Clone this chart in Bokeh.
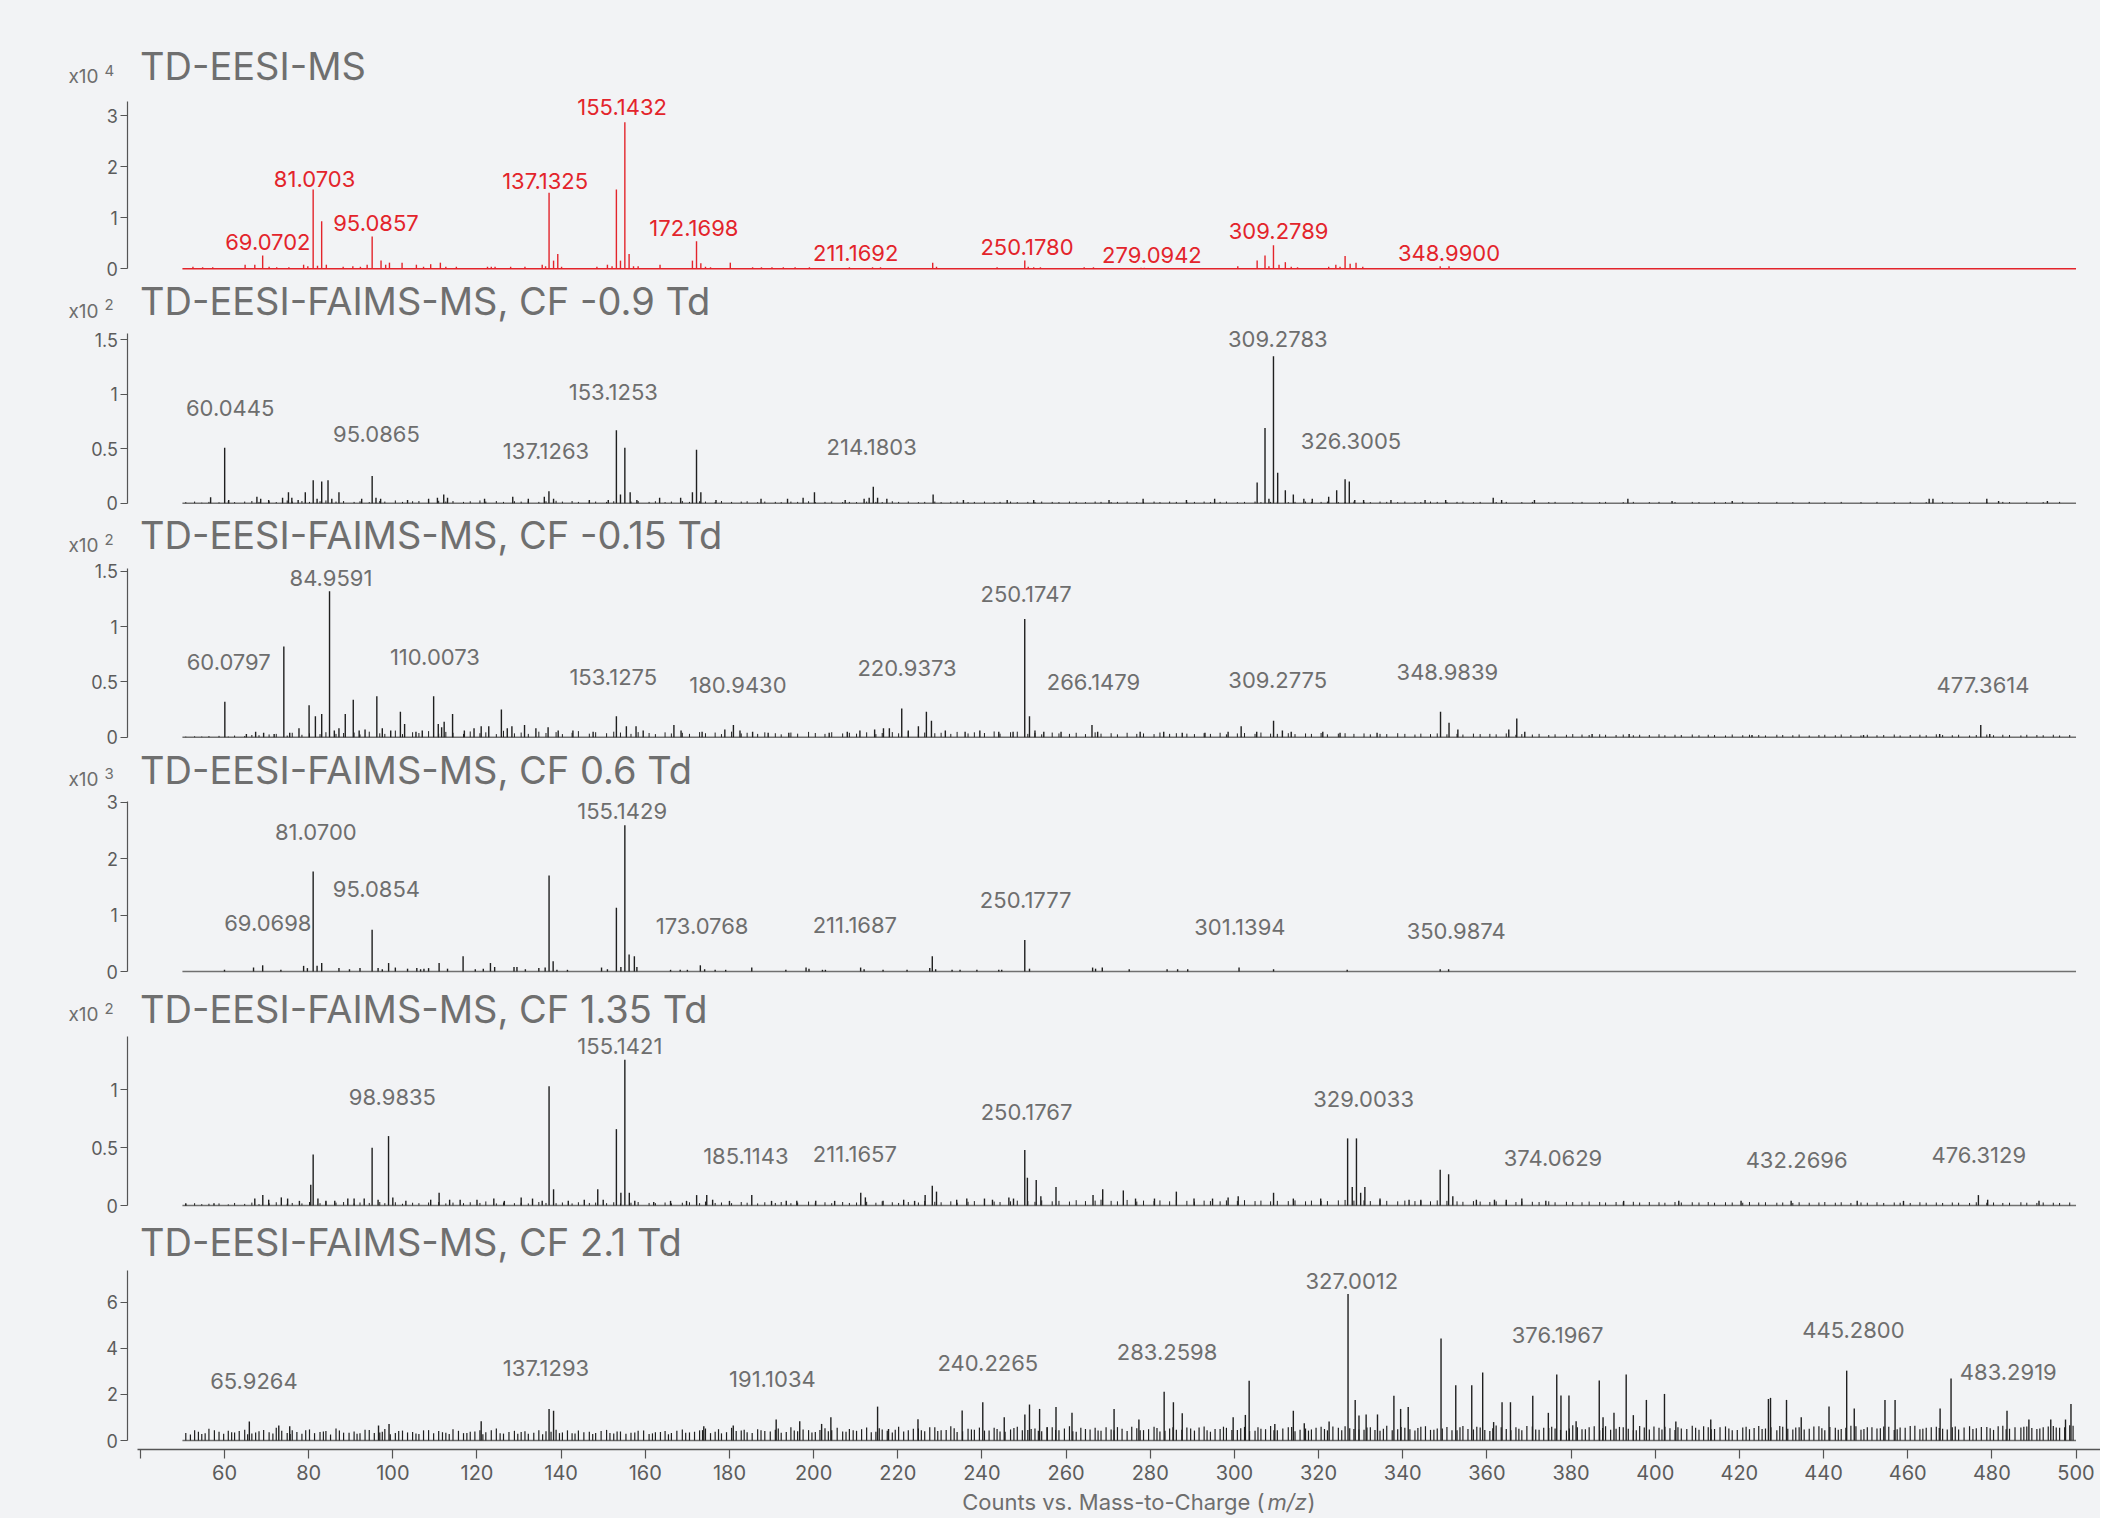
from bokeh.plotting import figure
from bokeh.models import Range1d, FixedTicker, CustomJSTickFormatter, Label, ColumnDataSource
from bokeh.layouts import column
from bokeh.embed import file_html
from bokeh.resources import INLINE

# ------------------------------------------------------------------ data
titles = ["TD-EESI-MS",
          "TD-EESI-FAIMS-MS, CF -0.9 Td",
          "TD-EESI-FAIMS-MS, CF -0.15 Td",
          "TD-EESI-FAIMS-MS, CF 0.6 Td",
          "TD-EESI-FAIMS-MS, CF 1.35 Td",
          "TD-EESI-FAIMS-MS, CF 2.1 Td"]
exponents = ["4", "2", "2", "3", "2", None]
y_ticks = [[0, 1, 2, 3], [0, 0.5, 1, 1.5], [0, 0.5, 1, 1.5],
           [0, 1, 2, 3], [0, 0.5, 1], [0, 2, 4, 6]]
x_tick_values = [40, 60, 80, 100, 120, 140, 160, 180, 200, 220, 240, 260,
                 280, 300, 320, 340, 360, 380, 400, 420, 440, 460, 480, 500]
x_tick_labels = ["", "60", "80", "100", "120", "140", "160", "180", "200",
                 "220", "240", "260", "280", "300", "320", "340", "360",
                 "380", "400", "420", "440", "460", "480", "500"]
scan_range = [50, 500]

# panel 1 (x10^4)
p1_peaks = [(52.5, .04), (54.8, .03), (57.2, .03), (64.9, .08), (67.2, .08), (69.07, .26),
            (70.6, .04), (72.4, .03), (75.3, .03), (78.8, .08), (79.8, .05), (81.07, 1.55),
            (82.1, .06), (83.09, .93), (84.2, .08), (88.2, .04), (90.5, .05), (92.3, .04),
            (93.9, .08), (95.09, .63), (97.2, .16), (98.3, .08), (99.2, .12), (102.2, .12),
            (105.6, .08), (107.3, .04), (109.0, .09), (111.3, .12), (112.6, .04), (115.1, .04),
            (122.5, .04), (123.4, .04), (124.3, .04), (128.0, .04), (131.4, .04), (135.5, .08),
            (136.3, .05), (137.13, 1.49), (138.2, .16), (139.2, .29), (140.1, .04), (148.5, .04),
            (151.0, .08), (152.1, .05), (153.13, 1.55), (154.1, .16), (155.14, 2.87), (156.15, .29),
            (157.2, .05), (158.3, .05), (163.5, .08), (171.2, .16), (172.17, .54), (173.2, .11),
            (174.3, .04), (175.5, .03), (180.2, .12), (185.5, .03), (187.6, .03), (190.1, .03),
            (192.8, .03), (195.6, .03), (199.0, .03), (208.5, .03), (214.0, .03), (215.9, .03),
            (228.3, .12), (229.2, .04), (243.6, .03), (250.18, .16), (251.0, .04), (252.3, .03),
            (253.9, .03), (264.3, .03), (266.5, .03), (277.8, .02), (278.6, .02), (300.8, .05),
            (305.4, .16), (307.27, .26), (308.2, .05), (309.28, .46), (310.6, .08), (312.1, .13),
            (313.5, .04), (315.0, .03), (322.4, .04), (324.1, .08), (325.1, .04), (326.3, .25),
            (327.5, .10), (328.9, .12), (330.5, .04), (348.9, .05), (351.0, .05)]

# panel 2 (x10^2)
p2_peaks = [(56.7, .055), (60.04, .51), (61.0, .03), (67.7, .06), (68.6, .04), (70.5, .03),
            (73.8, .05), (75.2, .10), (76.0, .05), (77.5, .03), (79.2, .10), (81.08, .21),
            (82.0, .04), (83.1, .20), (84.6, .21), (85.5, .04), (87.2, .10), (92.6, .04),
            (95.09, .25), (96.0, .05), (97.1, .04), (103.5, .03), (108.5, .04), (110.6, .05),
            (112.1, .08), (113.0, .05), (121.8, .04), (128.5, .06), (132.2, .04), (136.0, .06),
            (137.1, .11), (138.2, .04), (146.7, .03), (151.2, .03), (153.13, .67), (154.1, .08),
            (155.14, .51), (156.4, .10), (158.0, .03), (163.4, .05), (168.4, .05), (171.2, .10),
            (172.17, .49), (173.2, .10), (176.8, .03), (187.5, .04), (193.8, .04), (197.5, .05),
            (200.2, .10), (207.5, .03), (212.0, .04), (213.2, .05), (214.18, .15), (215.2, .05),
            (217.4, .04), (228.4, .08), (235.6, .03), (246.0, .03), (252.3, .03), (270.2, .03),
            (278.3, .04), (288.6, .03), (295.3, .04), (305.4, .19), (307.27, .69), (308.2, .04),
            (309.28, 1.35), (310.28, .28), (312.1, .12), (314.0, .08), (316.5, .04), (318.5, .04),
            (322.4, .06), (324.3, .12), (326.3, .22), (327.3, .20), (328.6, .03), (330.7, .03),
            (337.2, .03), (345.3, .03), (350.2, .03), (361.5, .05), (363.5, .03), (371.3, .03),
            (393.5, .04), (404.0, .02), (418.3, .02), (465.1, .04), (466.0, .04), (478.8, .04),
            (481.6, .02), (493.2, .02)]

# panel 3 (x10^2)
p3_peaks = [(60.08, .32), (65.2, .03), (67.4, .05), (69.3, .04), (71.8, .03), (74.1, .82),
            (75.5, .04), (77.7, .08), (80.1, .29), (81.6, .19), (83.1, .21), (84.96, 1.32),
            (86.1, .06), (87.2, .08), (88.7, .21), (90.6, .34), (92.0, .06), (93.4, .07),
            (96.2, .37), (97.5, .08), (99.5, .06), (101.8, .23), (102.8, .12), (105.5, .05),
            (107.0, .06), (109.7, .37), (110.8, .12), (111.6, .09), (112.2, .14), (114.2, .21),
            (117.0, .06), (119.3, .08), (121.0, .10), (122.8, .10), (125.8, .25), (127.2, .08),
            (128.3, .10), (131.3, .11), (134.0, .08), (136.9, .09), (139.3, .06), (142.8, .06),
            (147.6, .05), (153.13, .19), (155.5, .10), (157.8, .10), (159.5, .06), (166.8, .11),
            (168.5, .06), (173.5, .05), (178.9, .07), (180.94, .11), (182.5, .06), (185.5, .05),
            (189.2, .04), (194.1, .04), (203.7, .04), (208.0, .05), (211.0, .06), (214.5, .07),
            (216.6, .08), (218.0, .08), (220.94, .26), (222.5, .06), (224.9, .10), (226.8, .23),
            (228.0, .15), (231.3, .06), (236.0, .05), (239.5, .06), (244.0, .05), (247.4, .05),
            (250.17, 1.07), (251.3, .19), (252.6, .06), (254.7, .05), (258.8, .05), (266.15, .11),
            (267.5, .05), (277.6, .05), (283.2, .05), (287.6, .04), (293.0, .04), (298.5, .05),
            (301.6, .10), (305.3, .05), (309.3, .15), (311.4, .06), (313.5, .05), (321.0, .05),
            (325.1, .04), (333.9, .04), (348.98, .23), (351.0, .13), (353.1, .07), (365.2, .07),
            (367.1, .17), (369.0, .05), (385.0, .03), (393.8, .03), (423.0, .02), (449.5, .02),
            (467.6, .03), (477.36, .11), (479.5, .03)]

# panel 4 (x10^3)
p4_peaks = [(60.0, .03), (66.9, .07), (69.07, .11), (73.4, .03), (78.8, .10), (79.7, .06),
            (81.07, 1.77), (82.0, .10), (83.1, .15), (87.2, .06), (89.7, .04), (92.2, .06),
            (95.08, .74), (96.5, .06), (97.5, .04), (99.0, .15), (100.6, .07), (103.5, .05),
            (105.7, .06), (106.6, .04), (107.4, .05), (108.5, .06), (111.0, .15), (113.0, .05),
            (116.7, .27), (119.6, .04), (121.5, .05), (123.2, .15), (124.2, .08), (128.8, .08),
            (129.5, .08), (131.5, .04), (134.7, .06), (136.2, .07), (137.13, 1.70), (138.1, .18),
            (139.0, .03), (141.5, .03), (149.6, .07), (151.0, .04), (153.13, 1.13), (154.2, .08),
            (155.14, 2.59), (156.15, .30), (157.4, .27), (158.0, .08), (166.0, .03), (168.3, .03),
            (170.0, .03), (173.08, .11), (174.1, .04), (176.6, .03), (179.1, .03), (185.3, .07),
            (193.4, .03), (198.2, .07), (198.9, .05), (202.1, .03), (202.8, .03), (211.17, .07),
            (212.0, .04), (216.5, .03), (222.2, .03), (227.6, .06), (228.2, .27), (229.0, .04),
            (232.9, .03), (234.8, .03), (238.8, .03), (244.0, .03), (244.7, .03), (250.18, .56),
            (251.3, .05), (266.3, .07), (267.0, .05), (268.6, .07), (275.0, .04), (284.0, .04),
            (286.5, .04), (288.9, .04), (301.1, .07), (309.3, .04), (326.8, .03), (348.9, .04),
            (350.9, .04)]

# panel 5 (x10^2)
p5_peaks = [(50.8, .02), (57.5, .02), (67.2, .06), (69.1, .09), (70.5, .05), (73.5, .07),
            (75.0, .06), (77.8, .04), (80.5, .18), (81.07, .44), (82.2, .06), (84.1, .04),
            (86.2, .04), (89.3, .06), (90.8, .06), (93.2, .06), (95.08, .50), (96.5, .05),
            (98.98, .60), (100.0, .07), (103.1, .04), (109.0, .05), (111.0, .11), (113.5, .05),
            (116.0, .05), (120.0, .05), (124.0, .06), (126.5, .04), (130.5, .07), (133.2, .06),
            (135.5, .04), (137.13, 1.03), (138.2, .14), (141.7, .04), (145.5, .05), (148.7, .14),
            (150.0, .05), (153.13, .66), (154.2, .11), (155.14, 1.26), (156.2, .11), (157.5, .04),
            (162.0, .03), (166.0, .04), (169.8, .04), (172.2, .09), (174.6, .09), (176.0, .05),
            (180.0, .04), (185.3, .09), (190.0, .04), (193.5, .04), (196.0, .04), (200.5, .04),
            (205.0, .04), (211.2, .11), (212.3, .07), (216.5, .04), (221.4, .05), (224.0, .04),
            (226.5, .09), (228.2, .17), (229.2, .12), (234.0, .05), (236.4, .06), (240.6, .06),
            (242.5, .05), (246.4, .07), (247.5, .06), (250.18, .48), (250.8, .24), (252.9, .22),
            (254.0, .08), (257.6, .16), (266.4, .09), (268.7, .14), (273.6, .13), (276.5, .06),
            (281.0, .06), (286.2, .12), (290.4, .06), (294.8, .06), (298.5, .07), (300.9, .08),
            (309.3, .11), (314.0, .06), (320.5, .06), (326.9, .58), (328.0, .16), (329.0, .58),
            (330.0, .11), (331.0, .16), (334.6, .06), (341.5, .05), (344.3, .05), (348.9, .31),
            (350.9, .27), (351.9, .08), (357.5, .05), (361.8, .05), (364.6, .05), (368.3, .06),
            (374.0, .04), (392.5, .04), (405.6, .04), (420.4, .04), (432.3, .04), (448.0, .04),
            (459.0, .04), (476.8, .09), (479.0, .05), (491.2, .04)]

# panel 6 (counts)
p6_peaks = [(65.9, .82), (72.9, .65), (75.5, .62), (96.6, .65), (99.1, .72), (121.0, .84),
            (137.13, 1.37), (138.2, 1.29), (173.9, .62), (180.9, .65), (191.1, .91), (196.7, .84),
            (201.9, .72), (204.1, 1.01), (215.2, 1.47), (217.8, .50), (224.8, .92), (235.3, 1.30),
            (240.2, 1.66), (245.3, 1.01), (250.2, 1.13), (251.3, 1.56), (253.7, 1.37), (255.5, .58),
            (257.6, 1.45), (261.4, 1.20), (271.4, 1.37), (277.3, .91), (283.3, 2.11), (285.5, 1.66),
            (287.6, 1.18), (299.7, 1.01), (302.6, 1.11), (303.5, 2.59), (309.6, .72), (314.0, 1.29),
            (316.6, .75), (322.5, .82), (327.0, 6.36), (328.7, 1.76), (329.6, 1.08), (331.3, 1.13),
            (334.0, 1.13), (337.9, 1.94), (339.5, 1.37), (341.3, 1.45), (349.1, 4.42), (352.6, 2.40),
            (356.4, 2.40), (359.0, 2.95), (361.6, .80), (363.6, 1.66), (365.6, 1.66), (370.9, 1.94),
            (374.6, 1.20), (376.6, 2.86), (377.6, 1.95), (379.5, 1.95), (381.2, .84), (386.7, 2.60),
            (387.6, 1.01), (390.2, 1.20), (393.1, 2.86), (394.8, 1.10), (397.9, 1.76), (402.2, 2.02),
            (404.9, .82), (413.2, .91), (426.9, 1.80), (427.4, 1.85), (431.2, 1.76), (434.7, 1.01),
            (441.3, 1.47), (445.5, 3.03), (447.3, 1.39), (454.6, 1.76), (457.0, 1.76), (467.7, 1.39),
            (470.3, 2.69), (483.6, 1.29), (488.8, .91), (494.0, .91), (497.5, .91), (498.8, 1.58)]

# low-level background sticks (shared m/z positions, per-panel heights)
grass_mz = [50.8, 52.9, 54.6, 56.3, 58.7, 60.9, 62.4, 64.8, 66.5, 68.2,
            70.6, 72.3, 74.9, 76.1, 78.4, 80.2, 82.7, 84.1, 86.5, 88.3,
            90.8, 92.2, 94.4, 96.9, 98.1, 100.6, 102.3, 104.7, 106.2, 108.5,
            110.9, 112.6, 114.3, 116.8, 118.4, 120.7, 122.1, 124.6, 126.3, 128.9,
            130.5, 132.2, 134.7, 136.4, 138.8, 140.3, 142.6, 144.1, 146.7, 148.2,
            150.8, 152.5, 154.1, 156.6, 158.3, 160.9, 162.4, 164.7, 166.2, 168.8,
            170.5, 172.9, 174.3, 176.6, 178.1, 180.5, 182.8, 184.2, 186.7, 188.4,
            190.9, 192.3, 194.6, 196.2, 198.8, 200.4, 202.7, 204.3, 206.9, 208.5,
            210.2, 212.6, 214.8, 216.3, 218.7, 220.2, 222.5, 224.9, 226.4, 228.8,
            230.3, 232.6, 234.1, 236.7, 238.2, 240.6, 242.9, 244.3, 246.8, 248.4,
            250.9, 252.6, 254.2, 256.7, 258.3, 260.8, 262.4, 264.6, 266.9, 268.3,
            270.7, 272.2, 274.5, 276.8, 278.4, 280.9, 282.3, 284.6, 286.2, 288.7,
            290.5, 292.8, 294.3, 296.6, 298.1, 300.7, 302.4, 304.9, 306.3, 308.6,
            310.2, 312.8, 314.4, 316.9, 318.3, 320.6, 322.1, 324.7, 326.3, 328.4,
            330.8, 332.3, 334.6, 336.2, 338.8, 340.5, 342.9, 344.3, 346.6, 348.2,
            350.5, 352.9, 354.3, 356.8, 358.4, 360.7, 362.2, 364.6, 366.9, 368.3,
            370.8, 372.4, 374.7, 376.2, 378.9, 380.4, 382.6, 384.3, 386.8, 388.2,
            390.7, 392.4, 394.8, 396.3, 398.6, 400.9, 402.3, 404.7, 406.2, 408.8,
            410.4, 412.6, 414.1, 416.7, 418.3, 420.8, 422.4, 424.6, 426.2, 428.9,
            430.3, 432.7, 434.2, 436.6, 438.9, 440.3, 442.8, 444.2, 446.5, 448.9,
            450.4, 452.7, 454.3, 456.8, 458.2, 460.6, 462.9, 464.4, 466.8, 468.3,
            470.6, 472.1, 474.7, 476.3, 478.8, 480.4, 482.6, 484.2, 486.9, 488.3,
            490.7, 492.2, 494.6, 496.1, 498.5]

p2_grass = [.010, .015, .005, .012, .008, .020, .010, .015, .020, .012,
            .018, .010, .025, .015, .020, .012, .018, .025, .015, .020,
            .012, .018, .010, .020, .015, .025, .012, .018, .020, .015,
            .022, .015, .020, .012, .018, .025, .015, .020, .012, .018,
            .015, .020, .012, .018, .022, .015, .020, .012, .018, .015,
            .012, .018, .010, .015, .020, .012, .018, .010, .015, .020,
            .012, .018, .015, .010, .020, .012, .015, .018, .010, .015,
            .012, .010, .015, .012, .018, .010, .012, .015, .010, .012,
            .010, .015, .012, .010, .018, .012, .015, .010, .012, .015,
            .010, .012, .015, .010, .012, .015, .010, .012, .015, .010,
            .012, .010, .015, .012, .010, .015, .012, .010, .015, .012,
            .010, .012, .015, .010, .012, .015, .010, .015, .012, .010,
            .012, .015, .010, .012, .015, .010, .012, .015, .010, .012,
            .015, .010, .012, .015, .010, .012, .015, .010, .012, .015,
            .012, .010, .015, .012, .010, .015, .012, .010, .015, .012,
            .010, .012, .015, .010, .012, .000, .010, .012, .000, .010,
            .012, .000, .010, .012, .000, .010, .012, .000, .010, .012,
            .000, .010, .012, .000, .010, .012, .000, .010, .000, .012,
            .010, .000, .012, .010, .000, .012, .000, .010, .000, .012,
            .000, .010, .000, .012, .000, .010, .000, .012, .000, .010,
            .000, .012, .000, .010, .000, .012, .000, .010, .000, .012,
            .010, .000, .012, .000, .010, .000, .012, .010, .000, .012,
            .000, .010, .000, .012, .000]

p3_grass = [.005, .008, .006, .010, .012, .006, .015, .010, .020, .018,
            .025, .030, .015, .040, .022, .035, .028, .045, .030, .038,
            .042, .025, .050, .035, .030, .060, .028, .045, .038, .055,
            .032, .048, .040, .030, .052, .036, .044, .028, .058, .035,
            .042, .030, .050, .038, .046, .028, .040, .055, .032, .045,
            .036, .050, .042, .030, .046, .038, .028, .044, .034, .040,
            .030, .046, .036, .042, .028, .050, .034, .040, .030, .044,
            .036, .026, .042, .032, .048, .038, .030, .045, .034, .040,
            .032, .044, .028, .038, .046, .035, .050, .030, .042, .036,
            .040, .030, .048, .034, .044, .038, .052, .032, .045, .050,
            .030, .038, .026, .042, .034, .030, .040, .028, .044, .032,
            .036, .026, .040, .030, .034, .028, .042, .030, .036, .032,
            .028, .036, .030, .040, .026, .034, .038, .030, .042, .032,
            .030, .036, .028, .034, .030, .038, .026, .032, .036, .030,
            .034, .026, .030, .028, .036, .030, .024, .032, .028, .034,
            .026, .030, .024, .032, .028, .030, .026, .034, .022, .028,
            .024, .030, .020, .026, .022, .028, .024, .020, .026, .022,
            .020, .024, .018, .022, .020, .026, .018, .022, .020, .024,
            .018, .022, .020, .016, .024, .018, .022, .020, .016, .022,
            .020, .018, .024, .016, .020, .022, .018, .024, .020, .016,
            .022, .018, .020, .024, .016, .020, .022, .018, .026, .020,
            .018, .022, .016, .020, .024, .018, .022, .020, .016, .022,
            .020, .018, .022, .016, .020]

p5_grass = [.010, .020, .012, .015, .018, .010, .022, .014, .025, .012,
            .020, .028, .015, .022, .018, .030, .020, .035, .025, .030,
            .018, .026, .022, .030, .020, .028, .015, .024, .020, .026,
            .030, .018, .025, .020, .028, .022, .035, .018, .026, .020,
            .024, .018, .030, .022, .020, .026, .018, .028, .022, .025,
            .020, .028, .018, .024, .030, .022, .020, .026, .018, .024,
            .028, .020, .034, .022, .026, .020, .030, .024, .018, .028,
            .022, .030, .020, .026, .034, .024, .028, .020, .030, .022,
            .026, .032, .024, .036, .028, .022, .030, .026, .040, .032,
            .028, .036, .024, .032, .038, .026, .034, .030, .036, .042,
            .038, .032, .044, .036, .040, .034, .046, .038, .042, .050,
            .040, .036, .048, .034, .042, .038, .044, .036, .046, .040,
            .034, .042, .038, .036, .044, .040, .046, .038, .042, .036,
            .040, .038, .044, .036, .042, .040, .038, .044, .048, .042,
            .044, .038, .046, .040, .036, .042, .038, .040, .036, .044,
            .040, .036, .032, .038, .034, .030, .036, .032, .030, .034,
            .032, .030, .036, .028, .032, .030, .028, .034, .030, .026,
            .030, .028, .032, .026, .030, .028, .024, .030, .026, .028,
            .026, .030, .024, .028, .026, .024, .030, .026, .028, .024,
            .026, .022, .028, .024, .026, .030, .024, .028, .022, .026,
            .024, .028, .022, .026, .024, .022, .028, .024, .026, .022,
            .026, .024, .022, .028, .024, .026, .022, .024, .028, .024,
            .022, .026, .024, .022, .026]

p6_grass = [.32, .45, .28, .51, .38, .42, .35, .47, .30, .40,
            .36, .55, .33, .44, .29, .48, .37, .41, .52, .34,
            .39, .31, .46, .35, .50, .33, .43, .37, .28, .45,
            .41, .34, .49, .32, .38, .44, .36, .52, .30, .42,
            .37, .29, .45, .40, .47, .35, .31, .43, .38, .33,
            .46, .30, .39, .34, .42, .28, .36, .41, .33, .48,
            .35, .44, .52, .38, .31, .55, .43, .36, .49, .41,
            .47, .34, .58, .40, .45, .37, .53, .44, .39, .50,
            .42, .56, .38, .48, .35, .60, .45, .52, .40, .58,
            .44, .62, .37, .51, .47, .43, .55, .39, .48, .60,
            .46, .52, .40, .57, .44, .62, .38, .50, .55, .42,
            .48, .58, .41, .53, .45, .60, .39, .52, .47, .56,
            .43, .61, .38, .50, .55, .46, .59, .42, .51, .63,
            .45, .57, .40, .52, .48, .60, .44, .55, .62, .50,
            .47, .58, .42, .64, .49, .55, .43, .60, .46, .52,
            .59, .44, .63, .48, .56, .41, .65, .50, .57, .45,
            .61, .47, .54, .52, .43, .66, .49, .58, .45, .62,
            .51, .57, .44, .63, .48, .55, .60, .46, .52, .64,
            .47, .58, .50, .61, .45, .56, .49, .63, .52, .44,
            .60, .48, .57, .51, .62, .45, .55, .50, .64, .47,
            .58, .52, .61, .46, .56, .63, .49, .55, .60, .51,
            .57, .48, .62, .53, .59, .46, .64, .51, .56, .61,
            .50, .58, .63, .55, .66]

# second set of background sticks for the CF 2.1 Td trace
p6_grass_b_mz = [51.9, 53.8, 55.4, 57.6, 59.8, 61.7, 63.5, 65.5, 67.4, 69.3,
                 71.5, 73.6, 75.6, 77.2, 79.3, 81.4, 83.5, 85.2, 87.3, 89.6,
                 91.5, 93.4, 95.6, 97.5, 99.4, 101.4, 103.5, 105.5, 107.3, 109.7,
                 111.8, 113.4, 115.6, 117.6, 119.5, 121.4, 123.4, 125.5, 127.6, 129.7,
                 131.4, 133.5, 135.6, 137.6, 139.6, 141.5, 143.3, 145.4, 147.5, 149.5,
                 151.6, 153.3, 155.4, 157.5, 159.6, 161.7, 163.6, 165.5, 167.5, 169.6,
                 171.7, 173.6, 175.5, 177.4, 179.3, 181.6, 183.5, 185.4, 187.5, 189.7,
                 191.6, 193.5, 195.4, 197.5, 199.6, 201.5, 203.5, 205.6, 207.7, 209.4,
                 211.4, 213.7, 215.6, 217.5, 219.4, 221.4, 223.7, 225.6, 227.6, 229.5,
                 231.5, 233.4, 235.4, 237.5, 239.4, 241.7, 243.6, 245.5, 247.6, 249.6,
                 251.7, 253.4, 255.5, 257.5, 259.6, 261.6, 263.5, 265.7, 267.6, 269.5,
                 271.4, 273.3, 275.6, 277.6, 279.6, 281.6, 283.5, 285.4, 287.5, 289.6,
                 291.6, 293.5, 295.4, 297.4, 299.4, 301.5, 303.6, 305.6, 307.4, 309.4,
                 311.5, 313.6, 315.6, 317.6, 319.4, 321.4, 323.4, 325.5, 327.4, 329.6,
                 331.5, 333.4, 335.4, 337.5, 339.6, 341.7, 343.6, 345.4, 347.4, 349.4,
                 351.7, 353.6, 355.5, 357.6, 359.5, 361.4, 363.4, 365.7, 367.6, 369.5,
                 371.6, 373.5, 375.4, 377.5, 379.6, 381.5, 383.4, 385.5, 387.5, 389.4,
                 391.5, 393.6, 395.5, 397.4, 399.7, 401.6, 403.5, 405.4, 407.5, 409.6,
                 411.5, 413.3, 415.4, 417.5, 419.5, 421.6, 423.5, 425.4, 427.5, 429.6,
                 431.5, 433.4, 435.4, 437.7, 439.6, 441.5, 443.5, 445.3, 447.7, 449.6,
                 451.5, 453.5, 455.5, 457.5, 459.4, 461.7, 463.6, 465.6, 467.5, 469.4,
                 471.3, 473.4, 475.5, 477.5, 479.6, 481.5, 483.4, 485.5, 487.6, 489.5,
                 491.4, 493.4, 495.3, 497.3, 499.3]
p6_grass_b = [.26, .38, .31, .44, .29, .36, .41, .27, .35, .46,
              .30, .42, .28, .37, .45, .32, .39, .26, .43, .34,
              .29, .47, .33, .38, .27, .41, .35, .30, .44, .31,
              .36, .28, .42, .33, .39, .27, .45, .31, .37, .29,
              .40, .34, .27, .38, .32, .44, .30, .36, .28, .41,
              .33, .39, .29, .35, .43, .31, .37, .27, .42, .34,
              .38, .45, .32, .49, .36, .41, .47, .33, .44, .39,
              .52, .37, .43, .48, .35, .46, .40, .55, .38, .44,
              .49, .36, .53, .42, .47, .39, .51, .44, .57, .41,
              .46, .53, .40, .48, .56, .43, .50, .38, .54, .45,
              .50, .42, .58, .46, .52, .40, .55, .48, .43, .57,
              .45, .51, .60, .44, .49, .54, .42, .58, .47, .52,
              .56, .44, .50, .60, .46, .53, .41, .57, .49, .45,
              .52, .59, .47, .43, .55, .50, .61, .45, .53, .48,
              .56, .46, .51, .44, .59, .49, .54, .62, .47, .52,
              .45, .57, .50, .60, .46, .53, .58, .44, .51, .63,
              .48, .55, .60, .46, .52, .57, .49, .62, .54, .47,
              .59, .51, .45, .56, .61, .48, .53, .58, .50, .55,
              .62, .49, .57, .52, .46, .60, .54, .50, .58, .63,
              .51, .56, .48, .61, .53, .59, .47, .55, .62, .50,
              .57, .53, .60, .49, .55, .64, .51, .58, .54, .48,
              .61, .56, .50, .59, .53, .62, .49, .57, .60, .54,
              .52, .61, .56, .58, .64]

# peak annotations: (text, label m/z position, label baseline height)
p1_labels = [("69.0702", 70.3, 0.355), ("81.0703", 81.4, 1.59), ("95.0857", 96.0, 0.73),
             ("137.1325", 136.2, 1.55), ("155.1432", 154.5, 3.0), ("172.1698", 171.55, 0.63),
             ("211.1692", 210.0, 0.14), ("250.1780", 250.7, 0.257), ("279.0942", 280.4, 0.106),
             ("309.2789", 310.5, 0.565), ("348.9900", 351.0, 0.146)]
p2_labels = [("60.0445", 61.35, 0.79), ("95.0865", 96.1, 0.555), ("137.1263", 136.4, 0.40),
             ("153.1253", 152.4, 0.943), ("214.1803", 213.8, 0.438), ("309.2783", 310.3, 1.423),
             ("326.3005", 327.7, 0.493)]
p3_labels = [("60.0797", 61.0, 0.604), ("84.9591", 85.3, 1.358), ("110.0073", 110.0, 0.643),
             ("153.1275", 152.4, 0.468), ("180.9430", 182.0, 0.393), ("220.9373", 222.2, 0.543),
             ("250.1747", 250.5, 1.213), ("266.1479", 266.5, 0.417), ("309.2775", 310.3, 0.438),
             ("348.9839", 350.6, 0.513), ("477.3614", 477.9, 0.393)]
p4_labels = [("69.0698", 70.3, 0.697), ("81.0700", 81.7, 2.31), ("95.0854", 96.1, 1.30),
             ("155.1429", 154.5, 2.688), ("173.0768", 173.5, 0.656), ("211.1687", 209.8, 0.668),
             ("250.1777", 250.4, 1.11), ("301.1394", 301.3, 0.626), ("350.9874", 352.7, 0.567)]
p5_labels = [("98.9835", 99.9, 0.864), ("155.1421", 153.95, 1.305), ("185.1143", 183.9, 0.354),
             ("211.1657", 209.8, 0.369), ("250.1767", 250.6, 0.735), ("329.0033", 330.7, 0.844),
             ("374.0629", 375.7, 0.331), ("432.2696", 433.6, 0.317), ("476.3129", 476.9, 0.36)]
p6_labels = [("65.9264", 67.0, 2.2), ("137.1293", 136.4, 2.75), ("191.1034", 190.2, 2.27),
             ("240.2265", 241.4, 3.0), ("283.2598", 284.0, 3.47), ("327.0012", 327.9, 6.55),
             ("376.1967", 376.8, 4.19), ("445.2800", 447.1, 4.41), ("483.2919", 483.9, 2.6)]

x_axis_title = ["Counts vs. Mass-to-Charge (", "m/z", ")"]

# ------------------------------------------------------------------ style / layout
FONT = "Inter"
BG = "#f2f3f5"
RED = "#e3242b"
INK = "#1f1f1f"
GRAY_TXT = "#6e6e6e"
TITLE_TXT = "#6f6f6f"
AXIS = "#555555"
TICK_TXT = "#5c5c5c"
TITLE_FS = 38
LABEL_FS = 22
EXP_FS = 19
SUP_FS = 15
XTITLE_FS = 22
BASE_FIX = 0.40            # text baseline correction (fraction of font size, px)

PAGE_W = 2100
PX_PER_MZ = 4.208          # horizontal scale
MZ_AT_224 = 60.0           # m/z of page pixel x = 224
X0 = MZ_AT_224 - 224 / PX_PER_MZ
X1 = MZ_AT_224 + (PAGE_W - 224) / PX_PER_MZ


def mz_at(X):
    return MZ_AT_224 + (X - 224) / PX_PER_MZ


Y_AXIS_X = 127.4
X_AXIS_START = 137.0

# per panel: figure top/bottom, y-axis top, zero px, px per unit, title baseline, exponent baseline
geom = [
    dict(f0=0,    f1=279,  axis_top=100.5,  zero=268.3,  unit=51.1,  title=80.7,   exp=84.0),
    dict(f0=279,  f1=513,  axis_top=333.3,  zero=502.7,  unit=108.9, title=316.0,  exp=318.3),
    dict(f0=513,  f1=747,  axis_top=567.7,  zero=736.7,  unit=110.5, title=549.5,  exp=553.0),
    dict(f0=747,  f1=984,  axis_top=801.0,  zero=971.0,  unit=56.43, title=784.5,  exp=786.7),
    dict(f0=984,  f1=1218, axis_top=1036.0, zero=1205.0, unit=115.7, title=1024.0, exp=1021.7),
    dict(f0=1218, f1=1518, axis_top=1270.0, zero=1440.0, unit=23.05, title=1257.0, exp=None),
]
X_AXIS_Y = 1449.0

all_peaks = [p1_peaks, p2_peaks, p3_peaks, p4_peaks, p5_peaks, p6_peaks]
all_grass = [None, (grass_mz, p2_grass), (grass_mz, p3_grass), None,
             (grass_mz, p5_grass), (grass_mz, p6_grass)]
all_labels = [p1_labels, p2_labels, p3_labels, p4_labels, p5_labels, p6_labels]

figs = []
for i in range(6):
    g = geom[i]

    def yv(Y, g=g):
        return (g["zero"] - Y) / g["unit"]

    def ytext(Y, fs, g=g):
        # y value for a text whose baseline should sit at page pixel Y
        return (g["zero"] - (Y - BASE_FIX * fs)) / g["unit"]

    last = (i == 5)
    p = figure(width=PAGE_W, height=g["f1"] - g["f0"],
               min_border_left=0, min_border_right=0,
               min_border_top=0, min_border_bottom=0,
               x_range=Range1d(X0, X1), y_range=Range1d(yv(g["f1"]), yv(g["f0"])),
               x_axis_location="below" if last else None,
               output_backend="svg", toolbar_location=None,
               background_fill_color=BG, border_fill_color=BG, outline_line_color=None)
    p.xgrid.visible = False
    p.ygrid.visible = False

    ax = p.yaxis[0]
    ax.fixed_location = mz_at(Y_AXIS_X)
    ax.bounds = (0, yv(g["axis_top"]))
    ax.ticker = FixedTicker(ticks=y_ticks[i], minor_ticks=[])
    ax.formatter = CustomJSTickFormatter(code="return tick.toString();")
    ax.axis_line_color = AXIS
    ax.axis_line_width = 1.2
    ax.major_tick_line_color = AXIS
    ax.major_tick_line_width = 1.2
    ax.major_tick_out = 7
    ax.major_tick_in = 0
    ax.minor_tick_line_color = None
    ax.major_label_standoff = 3
    ax.major_label_text_font = FONT
    ax.major_label_text_font_size = "18px"
    ax.major_label_text_color = TICK_TXT

    if last:
        xax = p.xaxis[0]
        xax.fixed_location = yv(X_AXIS_Y)
        xax.bounds = (mz_at(X_AXIS_START), X1)
        xax.ticker = FixedTicker(ticks=x_tick_values, minor_ticks=[])
        xax.major_label_overrides = dict(zip(x_tick_values, x_tick_labels))
        xax.axis_line_color = AXIS
        xax.axis_line_width = 1.6
        xax.major_tick_line_color = AXIS
        xax.major_tick_line_width = 1.2
        xax.major_tick_out = 9
        xax.major_tick_in = 0
        xax.minor_tick_line_color = None
        xax.major_label_standoff = 6
        xax.major_label_text_font = FONT
        xax.major_label_text_font_size = "20px"
        xax.major_label_text_color = TICK_TXT

    col = RED if i == 0 else INK
    base_col = RED if i == 0 else "#707070"
    p.segment(x0=scan_range[0], y0=0, x1=scan_range[1], y1=0,
              line_color=base_col, line_width=1.6)
    grass_sets = []
    if all_grass[i] is not None:
        grass_sets.append(all_grass[i])
    if last:
        grass_sets.append((p6_grass_b_mz, p6_grass_b))
    for gm, gh in grass_sets:
        pairs = list(zip(gm, gh))
        gsrc = ColumnDataSource(dict(x=[a for a, b in pairs], top=[b for a, b in pairs]))
        p.segment(x0="x", y0=0, x1="x", y1="top", source=gsrc,
                  line_color=col, line_width=1.2 if last else 1.0)
    src = ColumnDataSource(dict(x=[a for a, b in all_peaks[i]],
                                top=[b for a, b in all_peaks[i]]))
    p.segment(x0="x", y0=0, x1="x", y1="top", source=src,
              line_color=col, line_width=1.4)

    lab_col = RED if i == 0 else GRAY_TXT
    for txt, lx, ly in all_labels[i]:
        p.add_layout(Label(x=lx, y=ly + BASE_FIX * LABEL_FS / g["unit"], text=txt,
                           text_align="center", text_baseline="alphabetic", text_font=FONT,
                           text_font_size="%dpx" % LABEL_FS, text_color=lab_col))

    p.add_layout(Label(x=mz_at(139.5), y=ytext(g["title"], TITLE_FS), text=titles[i],
                       text_align="left", text_baseline="alphabetic",
                       text_font=FONT, text_font_size="%dpx" % TITLE_FS, text_color=TITLE_TXT))
    if exponents[i] is not None:
        p.add_layout(Label(x=mz_at(98), y=ytext(g["exp"], EXP_FS), text="x10",
                           text_align="right", text_baseline="alphabetic",
                           text_font=FONT, text_font_size="%dpx" % EXP_FS, text_color=GRAY_TXT))
        p.add_layout(Label(x=mz_at(104), y=ytext(g["exp"] - 8, SUP_FS), text=exponents[i],
                           text_align="left", text_baseline="alphabetic",
                           text_font=FONT, text_font_size="%dpx" % SUP_FS, text_color=GRAY_TXT))
    if last:
        ty = ytext(1510, XTITLE_FS)
        p.add_layout(Label(x=mz_at(1264), y=ty, text=x_axis_title[0],
                           text_align="right", text_baseline="alphabetic", text_font=FONT,
                           text_font_size="%dpx" % XTITLE_FS, text_color=GRAY_TXT))
        p.add_layout(Label(x=mz_at(1267), y=ty, text=x_axis_title[1],
                           text_align="left", text_baseline="alphabetic", text_font=FONT,
                           text_font_style="italic", text_font_size="%dpx" % XTITLE_FS,
                           text_color=GRAY_TXT))
        p.add_layout(Label(x=mz_at(1307), y=ty, text=x_axis_title[2],
                           text_align="left", text_baseline="alphabetic", text_font=FONT,
                           text_font_size="%dpx" % XTITLE_FS, text_color=GRAY_TXT))
    figs.append(p)

layout = column(*figs, spacing=0, styles={"background-color": BG})
html = file_html(layout, INLINE)
html = html.replace("<body>", '<body style="background-color:%s;">' % BG, 1)
open("out.html", "w").write(html)
